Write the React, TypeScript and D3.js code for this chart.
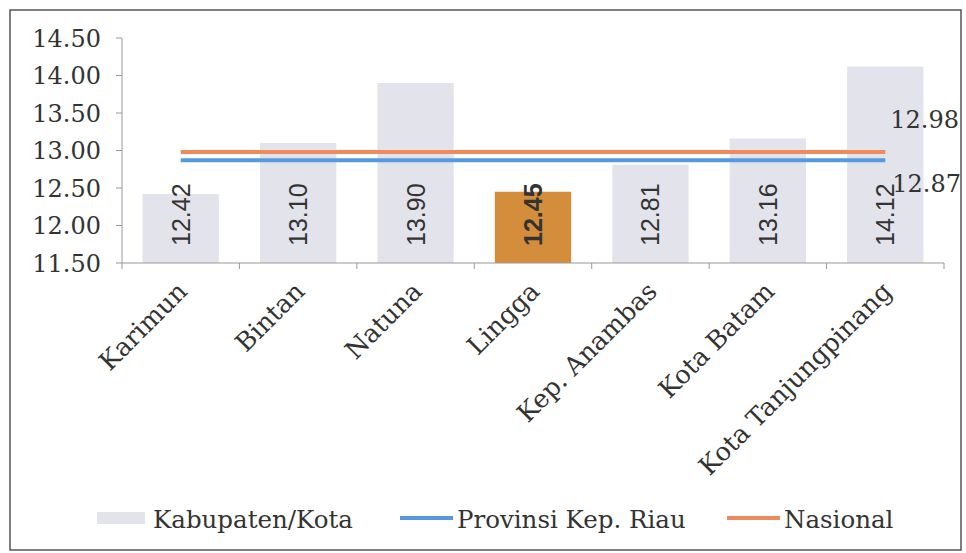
import React from "react";
import * as d3 from "d3";

const categories = ["Karimun", "Bintan", "Natuna", "Lingga", "Kep. Anambas", "Kota Batam", "Kota Tanjungpinang"];
const kabupatenValues = [12.42, 13.1, 13.9, 12.45, 12.81, 13.16, 14.12];
const provinsiValue = 12.87;
const nasionalValue = 12.98;
const yTicks = [11.5, 12.0, 12.5, 13.0, 13.5, 14.0, 14.5];
const highlighted = "Lingga";
const legendLabels = ["Kabupaten/Kota", "Provinsi Kep. Riau", "Nasional"];

const W = 966;
const H = 553;
const SERIF = "'DejaVu Serif', serif";
const SANS = "'Liberation Sans', Arial, sans-serif";
const BAR = "#e3e3ec";
const HIGHLIGHT = "#d38d3b";
const BLUE = "#559ade";
const ORANGE = "#ee8a5c";
const TEXT = "#333";

export default function App() {
  const x = d3.scaleBand<string>().domain(categories).range([122, 944]).paddingInner(0.35).paddingOuter(0.175);
  const y = d3.scaleLinear().domain([11.5, 14.5]).range([263, 38]);
  const step = x.step();
  const cx = (c: string) => (x(c) as number) + x.bandwidth() / 2;
  const first = cx(categories[0]);
  const last = cx(categories[categories.length - 1]);
  const boundaries = d3.range(categories.length + 1).map((i) => 122 + i * step);
  const lineGen = d3.line<number>().x((d, i) => (i === 0 ? first : last)).y((d) => y(d));

  return (
    <svg width={W} height={H} style={{ position: "absolute", left: 0, top: 0, background: "#fff" }}>
      <rect x={10} y={10} width={951} height={540} fill="#fff" stroke="#555" strokeWidth={1.5} />
      {/* y axis */}
      <line x1={122} x2={122} y1={y(14.5)} y2={y(11.5)} stroke="#999" strokeWidth={1} />
      {yTicks.map((t) => (
        <g key={t}>
          <line x1={116} x2={122} y1={y(t)} y2={y(t)} stroke="#999" />
          <text x={101} y={y(t)} dy="0.36em" textAnchor="end" fontFamily={SERIF} fontSize={24} fill={TEXT}>
            {t.toFixed(2)}
          </text>
        </g>
      ))}
      {/* bars */}
      {categories.map((c, i) => (
        <rect
          key={c}
          x={x(c)}
          y={y(kabupatenValues[i])}
          width={x.bandwidth()}
          height={y(11.5) - y(kabupatenValues[i])}
          fill={c === highlighted ? HIGHLIGHT : BAR}
        />
      ))}
      {/* x axis */}
      <line x1={122} x2={944} y1={y(11.5)} y2={y(11.5)} stroke="#999" />
      {boundaries.map((b, i) => (
        <line key={i} x1={b} x2={b} y1={y(11.5)} y2={y(11.5) + 6} stroke="#999" />
      ))}
      {/* lines */}
      <path d={lineGen([nasionalValue, nasionalValue]) || ""} stroke={ORANGE} strokeWidth={4} fill="none" />
      <path d={lineGen([provinsiValue, provinsiValue]) || ""} stroke={BLUE} strokeWidth={4} fill="none" />
      {/* bar labels */}
      {categories.map((c, i) => (
        <text
          key={c}
          transform={`translate(${cx(c) + 9},${246}) rotate(-90)`}
          textAnchor="start"
          fontFamily={SANS}
          fontSize={25}
          fontWeight={c === highlighted ? "bold" : "normal"}
          fill={TEXT}
        >
          {kabupatenValues[i].toFixed(2)}
        </text>
      ))}
      {/* line labels */}
      <text x={last + 5} y={y(nasionalValue) - 24} fontFamily={SERIF} fontSize={24} fill={TEXT}>
        {nasionalValue.toFixed(2)}
      </text>
      <text x={last + 7} y={y(provinsiValue) + 32} fontFamily={SERIF} fontSize={24} fill={TEXT}>
        {provinsiValue.toFixed(2)}
      </text>
      {/* x labels */}
      {categories.map((c) => (
        <text
          key={c}
          transform={`translate(${cx(c) + 8},${293}) rotate(-45)`}
          textAnchor="end"
          fontFamily={SERIF}
          fontSize={25.5}
          fill={TEXT}
        >
          {c}
        </text>
      ))}
      {/* legend */}
      <rect x={97} y={512} width={48} height={12} fill={BAR} />
      <text x={153} y={528} fontFamily={SERIF} fontSize={24.5} fill={TEXT}>{legendLabels[0]}</text>
      <line x1={400} x2={453} y1={518} y2={518} stroke={BLUE} strokeWidth={4} />
      <text x={457} y={528} fontFamily={SERIF} fontSize={24.5} fill={TEXT}>{legendLabels[1]}</text>
      <line x1={727} x2={780} y1={518} y2={518} stroke={ORANGE} strokeWidth={4} />
      <text x={784} y={528} fontFamily={SERIF} fontSize={24.5} fill={TEXT}>{legendLabels[2]}</text>
    </svg>
  );
}
